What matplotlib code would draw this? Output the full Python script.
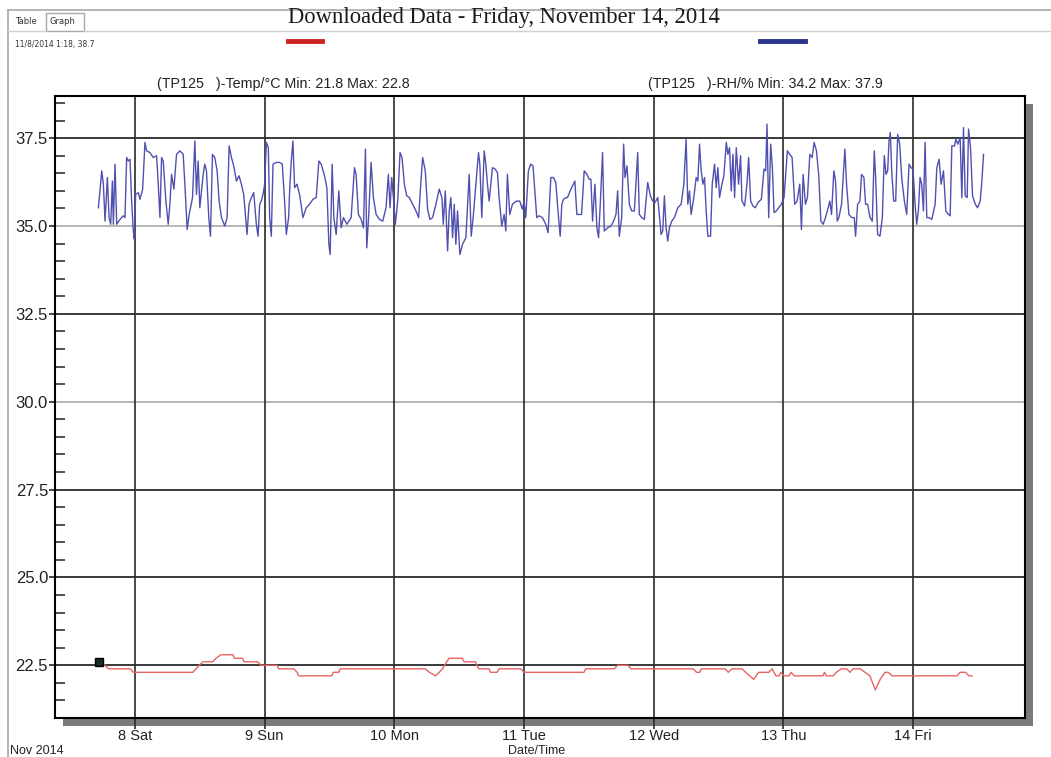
import matplotlib
matplotlib.use("Agg")
import matplotlib.pyplot as plt
from matplotlib.patches import Rectangle
from matplotlib.lines import Line2D
from matplotlib.ticker import MultipleLocator
import pandas as pd

# hours after 2014-11-08 00:00
base = pd.Timestamp("2014-11-08")

rh_hours = [
    -6.77, -6.15, -5.85, -5.54, -5.11, -4.80, -4.49, -4.18, -4.00, -3.69, -3.38, -2.77, -2.15, -1.85,
    -1.54, -1.23, -0.92, -0.62, -0.31, -0.12, 0.12, 0.62, 0.92, 1.42, 1.85, 2.15, 2.77, 3.38, 4.00,
    4.31, 4.62, 4.92, 5.23, 5.72, 6.15, 6.46, 6.77, 7.20, 7.69, 8.31, 8.92, 9.23, 9.66, 10.03, 10.65,
    11.08, 11.38, 11.69, 12.00, 12.62, 12.92, 13.23, 13.66, 13.97, 14.34, 14.77, 15.20, 15.57, 16.00,
    16.62, 17.05, 17.42, 17.85, 18.28, 18.77, 19.26, 19.69, 20.12, 20.49, 20.74, 21.11, 21.54, 21.97,
    22.46, 22.77, 23.08, 23.38, 23.69, 24.00, 24.31, 24.68, 24.92, 25.23, 25.54, 26.15, 26.77, 27.26,
    27.69, 28.00, 28.43, 28.62, 28.92, 29.23, 29.54, 29.97, 30.46, 31.08, 31.69, 32.31, 32.92, 33.54,
    34.03, 34.46, 35.08, 35.51, 35.88, 36.12, 36.49, 36.80, 37.23, 37.72, 38.15, 38.58, 39.20, 40.00,
    40.62, 40.92, 41.35, 41.85, 42.28, 42.65, 42.89, 43.26, 43.69, 44.12, 44.62, 45.23, 45.85, 46.46,
    46.89, 47.20, 47.51, 47.82, 48.18, 48.62, 49.05, 49.42, 49.85, 50.28, 50.77, 51.38, 52.00, 52.49,
    52.92, 53.23, 53.72, 54.15, 54.58, 55.08, 55.69, 56.31, 56.80, 57.05, 57.42, 57.85, 58.15, 58.46,
    58.77, 59.08, 59.38, 59.69, 60.12, 60.62, 61.23, 61.85, 62.22, 62.58, 63.08, 63.57, 63.82, 64.18,
    64.62, 64.92, 65.23, 65.54, 66.15, 66.65, 67.08, 67.38, 67.88, 68.31, 68.62, 68.92, 69.35, 69.85,
    70.58, 71.20, 71.69, 72.00, 72.31, 72.80, 73.23, 73.66,
    74.35, 74.78, 75.40, 76.02, 76.45, 76.95, 77.44, 77.87, 78.18, 78.68, 78.99, 79.30, 79.73, 80.04,
    80.53, 80.97, 81.40, 81.77, 82.20, 82.64, 83.13, 83.63, 84.06, 84.37, 84.68, 85.11, 85.48, 85.79,
    86.10, 86.53, 86.84, 87.46, 88.08, 88.57, 89.01, 89.32, 89.62, 90.06, 90.43, 90.68, 91.05, 91.48,
    91.91, 92.41, 93.03, 93.33, 93.77, 94.26, 94.88, 95.38, 95.81, 96.24, 96.74, 97.36, 97.66, 97.97,
    98.28, 98.59, 98.90, 99.33, 99.83, 100.45, 101.07, 101.56, 101.99, 102.30, 102.61, 102.92, 103.41,
    103.85, 104.16, 104.47, 104.78, 105.09, 105.40, 105.70, 106.01, 106.51, 106.82, 107.25, 107.56,
    107.87, 108.18, 108.61, 108.98, 109.42, 109.72, 110.03, 110.34, 110.65, 110.96, 111.27, 111.70,
    112.07, 112.32, 112.82, 113.25, 113.56, 113.93, 114.36, 114.79, 115.29, 115.91, 116.40, 116.71,
    116.96, 117.27, 117.64, 117.95, 118.26, 118.69, 119.12, 119.62, 120.11, 120.73, 121.16, 121.60,
    122.09, 122.53, 123.02, 123.33, 123.64, 124.07, 124.44, 124.88, 125.31, 125.68, 126.11, 126.54,
    126.92, 127.35, 127.78, 128.28, 128.59, 128.90, 129.33, 129.64, 129.95, 130.26, 130.75, 131.37,
    131.68, 132.11, 132.61, 133.10, 133.35, 133.72, 134.15, 134.46, 134.89, 135.20, 135.57, 136.01,
    136.44, 136.81, 137.06, 137.43, 137.86, 138.30, 138.66, 138.98, 139.29, 139.53, 139.78, 140.03,
    140.40, 140.77, 141.14, 141.51, 141.88, 142.38, 142.81, 143.24, 143.61, 143.98, 144.36, 144.66,
    144.97, 145.28, 145.59, 145.90, 146.21, 146.52, 146.95, 147.45, 148.07, 148.38, 148.81, 149.18,
    149.61, 150.05, 150.54, 150.85, 151.16, 151.65, 151.90, 152.27, 152.70, 153.01, 153.32, 153.63,
    154.00, 154.25, 154.62, 154.99, 155.49, 155.92, 156.41, 156.72, 157.03,
]
rh_values = [
    35.52, 36.57, 36.19, 35.14, 36.38, 35.24, 35.05, 36.28, 35.05, 36.76, 35.05, 35.19, 35.29, 35.24,
    36.95, 36.85, 36.90, 35.71, 34.86, 34.62, 35.90, 35.95, 35.76, 36.05, 37.38, 37.14, 37.09, 36.95, 37.00,
    36.19, 35.24, 36.95, 36.85, 35.71, 35.05, 35.62, 36.47, 36.05, 37.04, 37.14, 37.04, 36.19, 34.90, 35.33, 35.81,
    37.42, 35.90, 36.85, 35.52, 36.47, 36.76, 36.57, 35.24, 34.71, 37.04, 36.95, 36.57, 35.71, 35.24,
    35.00, 35.24, 37.28, 36.95, 36.71, 36.28, 36.43, 36.19, 35.90, 35.24, 34.76, 35.62, 35.81, 35.95,
    35.05, 34.71, 35.62, 35.71, 35.90, 36.19, 37.38, 37.23, 35.24, 34.71, 36.76, 36.81, 36.81, 36.76,
    35.71, 34.76, 35.24, 36.00, 36.85, 37.42, 36.09, 36.19, 35.90, 35.24, 35.52, 35.62, 35.76, 35.81,
    36.85, 36.76, 36.43, 36.09, 34.48, 34.19, 36.76, 35.24, 34.76, 36.00, 34.95, 35.24, 35.05, 35.24,
    36.66, 36.47, 35.33, 35.19, 34.95, 37.19, 34.38, 35.33, 36.81, 35.81, 35.33, 35.19, 35.14, 35.52,
    36.47, 35.52, 36.38, 35.81, 35.05, 35.71, 37.09, 36.95, 36.19, 35.86, 35.81, 35.62, 35.43, 35.24,
    36.28, 36.95, 36.57, 35.48, 35.19, 35.24, 35.62, 36.05, 35.81, 35.05, 36.00, 34.29, 35.43, 35.81,
    34.67, 35.62, 34.48, 35.43, 34.19, 34.48, 34.67, 36.47, 34.71, 35.24, 36.19, 37.09, 36.76, 35.24,
    37.14, 36.76, 36.19, 35.71, 36.66, 36.62, 36.52, 35.81, 35.00, 35.33, 34.86, 36.47, 35.33, 35.62,
    35.71, 35.71, 35.48, 35.71, 35.24, 36.57, 36.76, 36.71,
    35.24, 35.29, 35.24, 35.05, 34.81, 36.38, 36.38, 36.24, 35.62, 34.71, 35.62, 35.76, 35.81, 35.81,
    36.00, 36.14, 36.28, 35.33, 35.33, 35.33, 36.57, 36.47, 36.33, 36.33, 35.14, 36.19, 34.95, 34.67,
    35.62, 37.09, 34.86, 34.95, 35.00, 35.14, 35.33, 36.00, 34.71, 35.24, 37.33, 36.38, 36.71, 35.62,
    35.43, 35.43, 37.09, 35.33, 35.24, 35.19, 36.24, 35.86, 35.71, 35.67, 35.81, 34.76, 34.86, 35.86,
    34.95, 34.57, 34.95, 35.14, 35.24, 35.52, 35.62, 36.19, 37.47, 35.62, 36.00, 35.33, 35.81,
    36.38, 36.28, 37.33, 36.57, 36.19, 36.38, 35.43, 34.71, 34.71, 36.19, 36.76, 36.09,
    36.66, 35.81, 36.19, 36.43, 37.38, 37.04, 37.23, 36.00, 37.04, 35.81, 37.23, 36.19,
    37.00, 35.71, 35.57, 36.19, 36.95, 35.71, 35.57, 35.52, 35.67, 35.76, 36.62, 36.57,
    37.90, 35.24, 37.33, 36.66, 35.38, 35.43, 35.52, 35.62, 35.81, 37.14, 37.04, 36.95,
    35.62, 35.71, 36.19, 34.90, 36.47, 35.62, 35.81, 37.04, 36.95, 37.38, 37.14, 36.43,
    35.14, 35.05, 35.24, 35.52, 35.71, 35.33, 36.57, 36.28, 35.14, 35.24, 35.62, 37.19,
    36.19, 35.33, 35.24, 35.24, 34.71, 35.62, 35.71, 36.47, 36.38, 35.62, 35.62, 35.24,
    35.14, 37.14, 36.38, 34.76, 34.71, 35.24, 37.00, 36.47, 36.57, 37.42, 37.66, 36.57,
    35.71, 35.71, 37.61, 37.33, 36.38, 35.71, 35.33, 36.76, 36.66, 36.62, 35.62, 35.05,
    35.43, 36.38, 36.19, 35.43, 37.38, 35.24, 35.24, 35.19, 35.62, 36.66, 36.90, 36.19,
    36.57, 35.43, 35.33, 35.29, 37.28, 37.28, 37.47, 37.33, 37.52, 35.81, 37.80, 35.86,
    35.81, 37.76, 37.23, 35.86, 35.62, 35.52, 35.71, 36.28, 37.04,
]

temp_hours = [
    -6.6, -5.5, -4.9, -0.9, -0.3, 10.7, 11.3, 11.9, 12.6, 14.4, 15.0, 15.9, 18.1, 18.4, 19.9, 20.2,
    22.7, 23.3, 26.3, 26.6, 29.4, 30.0, 30.3, 36.4, 36.7, 37.7, 38.0, 53.7, 54.5, 55.6, 56.3, 56.9,
    57.7, 58.1, 60.6, 60.9, 63.0, 63.6, 65.5, 65.8, 67.0, 67.4, 71.4, 72.0, 83.1, 83.4, 88.7, 89.3,
    91.2, 91.8, 103.3, 103.9, 104.5, 104.8, 109.2, 109.8, 110.5, 112.3, 113.0, 114.5, 115.4, 117.3,
    117.9, 118.6, 119.2, 119.5, 120.1, 121.0, 121.4, 122.0, 127.3, 127.6, 127.9, 129.2, 129.8, 130.7,
    131.7, 132.3, 132.9, 134.2, 135.1, 136.0, 137.0, 137.9, 138.8, 139.4, 140.1, 152.1, 152.7, 153.7,
    154.3, 154.9,
]
temp_values = [
    22.6, 22.5, 22.4, 22.4, 22.3, 22.3, 22.4, 22.5, 22.6, 22.6, 22.7, 22.8, 22.8, 22.7, 22.7, 22.6,
    22.6, 22.5, 22.5, 22.4, 22.4, 22.3, 22.2, 22.2, 22.3, 22.3, 22.4, 22.4, 22.3, 22.2, 22.3, 22.4,
    22.6, 22.7, 22.7, 22.6, 22.6, 22.4, 22.4, 22.3, 22.3, 22.4, 22.4, 22.3, 22.3, 22.4, 22.4, 22.5,
    22.5, 22.4, 22.4, 22.3, 22.3, 22.4, 22.4, 22.3, 22.4, 22.4, 22.3, 22.1, 22.3, 22.3,
    22.4, 22.2, 22.2, 22.3, 22.2, 22.2, 22.3, 22.2, 22.2, 22.3, 22.2, 22.2, 22.3, 22.4,
    22.4, 22.3, 22.4, 22.4, 22.3, 22.2, 21.8, 22.1, 22.3, 22.3, 22.2, 22.2, 22.3, 22.3,
    22.2, 22.2,
]

day_dates = ["2014-11-08", "2014-11-09", "2014-11-10", "2014-11-11", "2014-11-12", "2014-11-13", "2014-11-14"]
day_labels = ["8 Sat", "9 Sun", "10 Mon", "11 Tue", "12 Wed", "13 Thu", "14 Fri"]
y_ticks = [22.5, 25.0, 27.5, 30.0, 32.5, 35.0, 37.5]
grid_colors = ["#2a2a2a", "#2a2a2a", "#2a2a2a", "#b0b0b0", "#2a2a2a", "#b0b0b0", "#2a2a2a"]

rh_t = base + pd.to_timedelta(rh_hours, unit="h")
temp_t = base + pd.to_timedelta(temp_hours, unit="h")

W, H = 1051, 757
fig = plt.figure(figsize=(W / 100, H / 100), dpi=100)
fig.patch.set_facecolor("white")

def fx(px):
    return px / W

def fy(py):
    return 1 - py / H

left, right, top, bottom = 55, 1025, 96, 718
ax = fig.add_axes([fx(left), fy(bottom), fx(right - left), (bottom - top) / H])

# drop shadow behind the plot box
shadow = Rectangle((fx(left + 8), fy(bottom + 8)), fx(right - left), (bottom - top) / H,
                   transform=fig.transFigure, facecolor="#7a7a7a", edgecolor="none", zorder=-1)
fig.patches.append(shadow)

for yv, c in zip(y_ticks, grid_colors):
    ax.axhline(yv, color=c, lw=1.3, zorder=1)
for d in day_dates:
    ax.axvline(pd.Timestamp(d), color="#2a2a2a", lw=1.2, zorder=1)

ax.plot(rh_t, rh_values, color="#5050b0", lw=1.0, zorder=3)
ax.plot(temp_t, temp_values, color="#e86464", lw=1.0, zorder=3)
ax.plot(temp_t[:1], temp_values[:1], marker="s", ms=6, color="#1a2a2a", mec="black", zorder=4)

ax.set_xlim(base - pd.Timedelta(hours=14.8), base + pd.Timedelta(hours=164.7))
ax.set_ylim(21.0, 38.7)

ax.set_xticks([pd.Timestamp(d) for d in day_dates])
ax.set_xticklabels(day_labels)
ax.set_yticks(y_ticks)
ax.set_yticklabels(["%.1f" % v for v in y_ticks])
ax.yaxis.set_minor_locator(MultipleLocator(0.5))

ax.tick_params(axis="x", which="major", direction="out", length=8, width=1.2, color="#2a2a2a",
               pad=0, labelsize=10.5, labelcolor="#222222")
ax.tick_params(axis="y", which="major", direction="out", length=4, width=1.2, color="#2a2a2a",
               pad=1, labelsize=12, labelcolor="#222222")
ax.tick_params(axis="y", which="minor", direction="in", length=7, width=1.2, color="#333333")
ax.tick_params(axis="x", which="minor", length=0)

for s in ax.spines.values():
    s.set_color("black")
    s.set_linewidth(1.5)
    s.set_zorder(5)

# window frame and tabs
frame = "#a8a8a8"
fig.add_artist(Line2D([fx(8), 1], [fy(10), fy(10)], color=frame, lw=1.2))
fig.add_artist(Line2D([fx(8), fx(8)], [fy(10), 0], color=frame, lw=1.2))
fig.add_artist(Line2D([fx(8), fx(46)], [fy(31), fy(31)], color="#d0d0d0", lw=1.0))
fig.add_artist(Line2D([fx(84), 1], [fy(31), fy(31)], color="#d0d0d0", lw=1.0))
fig.patches.append(Rectangle((fx(46), fy(31)), fx(38), 18 / H, transform=fig.transFigure,
                             facecolor="white", edgecolor=frame, lw=1.0))
fig.text(fx(15), fy(22), "Table", fontsize=6, color="#333333", va="center")
fig.text(fx(50), fy(22), "Graph", fontsize=6, color="#333333", va="center")
fig.text(fx(15), fy(45), "11/8/2014 1:18, 38.7", fontsize=5.5, color="#333333", va="center")

fig.text(fx(504), fy(17), "Downloaded Data - Friday, November 14, 2014", fontsize=16.3,
         family="Liberation Serif", color="#1a1a1a", ha="center", va="center")

fig.add_artist(Line2D([fx(288), fx(322)], [fy(41), fy(41)], color="#cc2222", lw=3.5))
fig.add_artist(Line2D([fx(760), fx(805)], [fy(41), fy(41)], color="#2a3590", lw=3.5))

fig.text(fx(157), fy(84), "(TP125   )-Temp/°C Min: 21.8 Max: 22.8", fontsize=10.3,
         family="Liberation Sans", color="#222222", va="center")
fig.text(fx(648), fy(84), "(TP125   )-RH/% Min: 34.2 Max: 37.9", fontsize=10.3,
         family="Liberation Sans", color="#222222", va="center")

fig.text(fx(10), fy(744.5), "Nov 2014", fontsize=9, family="Liberation Sans", color="#222222", va="top")
fig.text(fx(537), fy(744.5), "Date/Time", fontsize=9, family="Liberation Sans", color="#222222",
         ha="center", va="top")

for lab in ax.get_xticklabels() + ax.get_yticklabels():
    lab.set_family("Liberation Sans")

fig.savefig("out.png", dpi=100)
